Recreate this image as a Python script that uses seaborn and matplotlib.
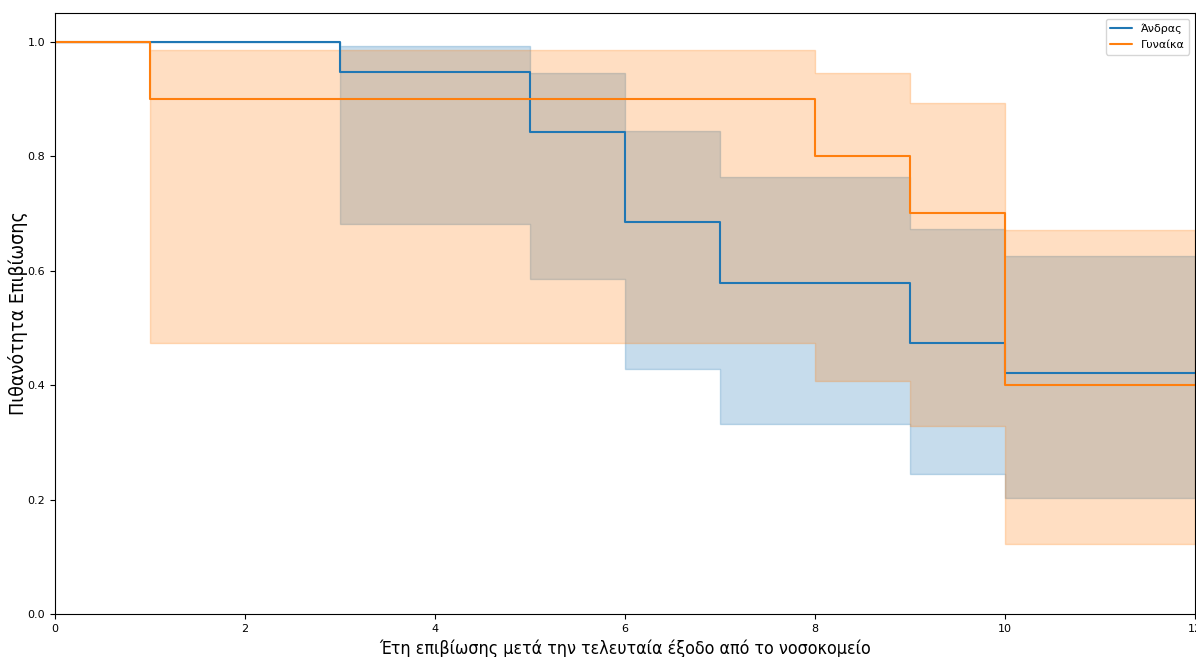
import matplotlib
matplotlib.use("Agg")
import matplotlib.pyplot as plt
import numpy as np
import pandas as pd
import seaborn as sns

# Kaplan-Meier estimates by sex (step-post), with 95% confidence bands
groups = ["Άνδρας", "Γυναίκα"]

men_t = [0, 3, 5, 6, 7, 9, 10, 12]
men_s = [1.0, 0.947, 0.842, 0.684, 0.579, 0.474, 0.421, 0.421]
men_lo = [1.0, 0.682, 0.586, 0.428, 0.332, 0.245, 0.203, 0.203]
men_hi = [1.0, 0.993, 0.946, 0.844, 0.763, 0.673, 0.625, 0.625]

women_t = [0, 1, 8, 9, 10, 12]
women_s = [1.0, 0.9, 0.8, 0.7, 0.4, 0.4]
women_lo = [1.0, 0.474, 0.407, 0.328, 0.122, 0.122]
women_hi = [1.0, 0.985, 0.946, 0.892, 0.671, 0.671]

colors = ["#1f77b4", "#ff7f0e"]

frames = []
for g, t, s, lo, hi in [
    (groups[0], men_t, men_s, men_lo, men_hi),
    (groups[1], women_t, women_s, women_lo, women_hi),
]:
    frames.append(pd.DataFrame({"t": t, "s": s, "lo": lo, "hi": hi, "group": g}))
df = pd.concat(frames, ignore_index=True)

sns.set_style("ticks", rc={
    "axes.edgecolor": "black", "xtick.color": "black", "ytick.color": "black",
    "text.color": "black", "axes.labelcolor": "black",
})
plt.rcParams["font.family"] = ["DejaVu Sans"]

fig = plt.figure(figsize=(11.96, 6.57), dpi=100)
ax = fig.add_axes([55 / 1196, 1 - 614 / 657, 1140 / 1196, 601 / 657])

for g, c in zip(groups, colors):
    d = df[df["group"] == g]
    ax.fill_between(d["t"], d["lo"], d["hi"], step="post", color=c, alpha=0.25, linewidth=1)

sns.lineplot(
    data=df, x="t", y="s", hue="group", hue_order=groups, palette=colors,
    drawstyle="steps-post", estimator=None, linewidth=1.5, ax=ax,
)

ax.set_xlim(0, 12)
ax.set_ylim(0, 1.05)
ax.set_xticks([0, 2, 4, 6, 8, 10, 12])
ax.set_yticks([0.0, 0.2, 0.4, 0.6, 0.8, 1.0])
ax.tick_params(labelsize=8, length=3.5)
ax.set_xlabel("Έτη επιβίωσης μετά την τελευταία έξοδο από το νοσοκομείο", fontsize=12.8,
              fontstretch="condensed")
ax.set_ylabel("Πιθανότητα Επιβίωσης", fontsize=14, fontstretch="condensed")
ax.yaxis.set_label_coords(-27 / 1140, 0.5)
ax.legend(title=None, loc="upper right", fontsize=8, labelspacing=0.6)
for sp in ax.spines.values():
    sp.set_visible(True)
    sp.set_color("black")

fig.savefig("out.png", dpi=100)
